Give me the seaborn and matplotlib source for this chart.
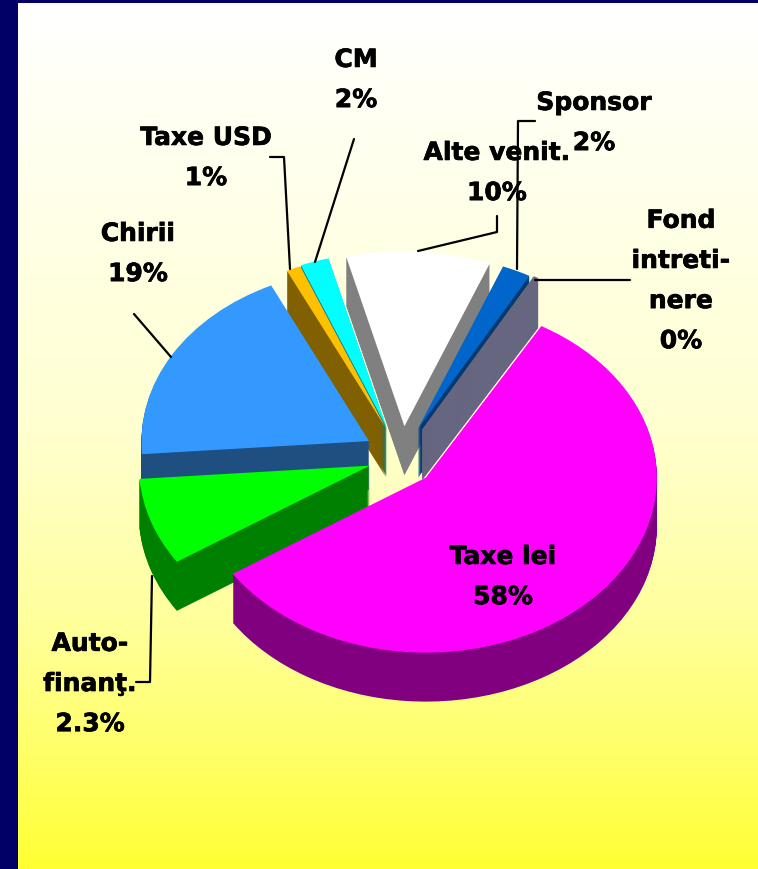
import matplotlib
matplotlib.use('Agg')
import matplotlib.pyplot as plt
import matplotlib.patheffects as pe
import numpy as np
import seaborn as sns
from matplotlib.lines import Line2D

# (shares of the pie, the label text is kept as printed)
categories = ['Taxe lei', 'Auto-finant', 'Chirii', 'Taxe USD', 'CM', 'Alte venit', 'Sponsor', 'Fond']
shares = [57, 8, 19, 1, 2, 10, 2, 0.3]
labels = ['Taxe lei\n58%', 'Auto-\nfinanţ.\n2.3%', 'Chirii\n19%', 'Taxe USD\n1%',
          'CM\n2%', 'Alte venit.\n10%', 'Sponsor\n2%', 'Fond\nintreti-\nnere\n0%']

top_colors = ['#FF00FF', '#00FF00', '#3399FF', '#FFC000', '#00FFFF', '#FFFFFF', '#0066CC', '#666680']
wall_colors = ['#800080', '#008000', '#1F4E80', '#806000', '#008080', '#808080', '#003870', '#666680']
explode = [0.13, 0.17, 0.17, 0.17, 0.17, 0.17, 0.17, 0.17]
# small hand corrections per slice, px
shift_x = [-1, 2, -2, -3, -6, -3, -4, -2]
shift_y = [6, 0, 0, 0, 0, 0, 0, 0]
draw_rank = [7, 6, 5, 4, 3, 0, 1, 2]  # back to front

W, H = 758, 870
CX, CY = 405, 457  # pie centre on the slide, px
RX, RY = 231, 175
DEPTH = 49

sns.set_theme(style='white')
plt.rcParams['font.family'] = ['DejaVu Sans']

fig = plt.figure(figsize=(W / 100, H / 100), dpi=100, facecolor='#000066')


def fx(x):
    return x / W


def fy(y):
    return 1 - y / H


# slide background, white fading to yellow
bg = fig.add_axes([fx(18), 0, 1 - fx(18), fy(4)])
rows = np.arange(4, H)
blue = np.interp(rows, [4, 430, 640, 760, 870], [255, 208, 150, 100, 50])
grad = np.ones((len(rows), 1, 3))
grad[:, 0, 2] = blue / 255
bg.imshow(grad, aspect='auto')
bg.axis('off')

# pie axes in units of the radius, so the circle is squashed to an ellipse
ax = fig.add_axes([0, 0, 1, 1])
ax.patch.set_alpha(0)


def stack(y_px, colors, base):
    wedges, _ = ax.pie(shares, colors=colors, explode=explode, startangle=60, counterclock=False,
                       center=(0, -y_px / RY), radius=1, normalize=True,
                       wedgeprops={'linewidth': 0})
    for w, r, dx, dy in zip(wedges, draw_rank, shift_x, shift_y):
        w.set_zorder(r * 1000 + base)
        w.set_center((w.center[0] + dx / RX, w.center[1] - dy / RY))
    wedges[2].set_radius(0.985)
    # the fond slice is too thin to fill without an outline
    wedges[-1].set_edgecolor(wedges[-1].get_facecolor())
    wedges[-1].set_linewidth(0.8)


for k in range(DEPTH, 0, -1):
    stack(k, wall_colors, DEPTH - k)
stack(0, top_colors, DEPTH + 1)

ax.set_aspect('auto')
ax.set_xlim(-CX / RX, (W - CX) / RX)
ax.set_ylim(-(H - CY) / RY, CY / RY)

# leader lines, px
leaders = [
    [(134, 315), (171, 358)],
    [(270, 158), (284, 158), (290, 270)],
    [(354, 140), (315, 263)],
    [(497, 217), (497, 233), (418, 252)],
    [(535, 122), (518, 122), (517, 270)],
    [(630, 281), (535, 281)],
    [(136, 683), (150, 683), (152, 577)],
]
for pts in leaders:
    xs, ys = zip(*pts)
    fig.add_artist(Line2D([fx(x) for x in xs], [fy(y) for y in ys], color='black', lw=1.6, zorder=20))

# label centres, px
label_pos = [(503, 578), (90, 685), (138, 255), (206, 159), (356, 81), (497, 174), (594, 124), (681, 282)]
for text, (x, y) in zip(labels, label_pos):
    fig.text(fx(x), fy(y), text, ha='center', va='center', fontsize=18, fontweight='bold',
             color='black', linespacing=1.85, zorder=30,
             path_effects=[pe.withStroke(linewidth=0.5, foreground='black')])

fig.savefig('out.png', dpi=100, facecolor=fig.get_facecolor())
